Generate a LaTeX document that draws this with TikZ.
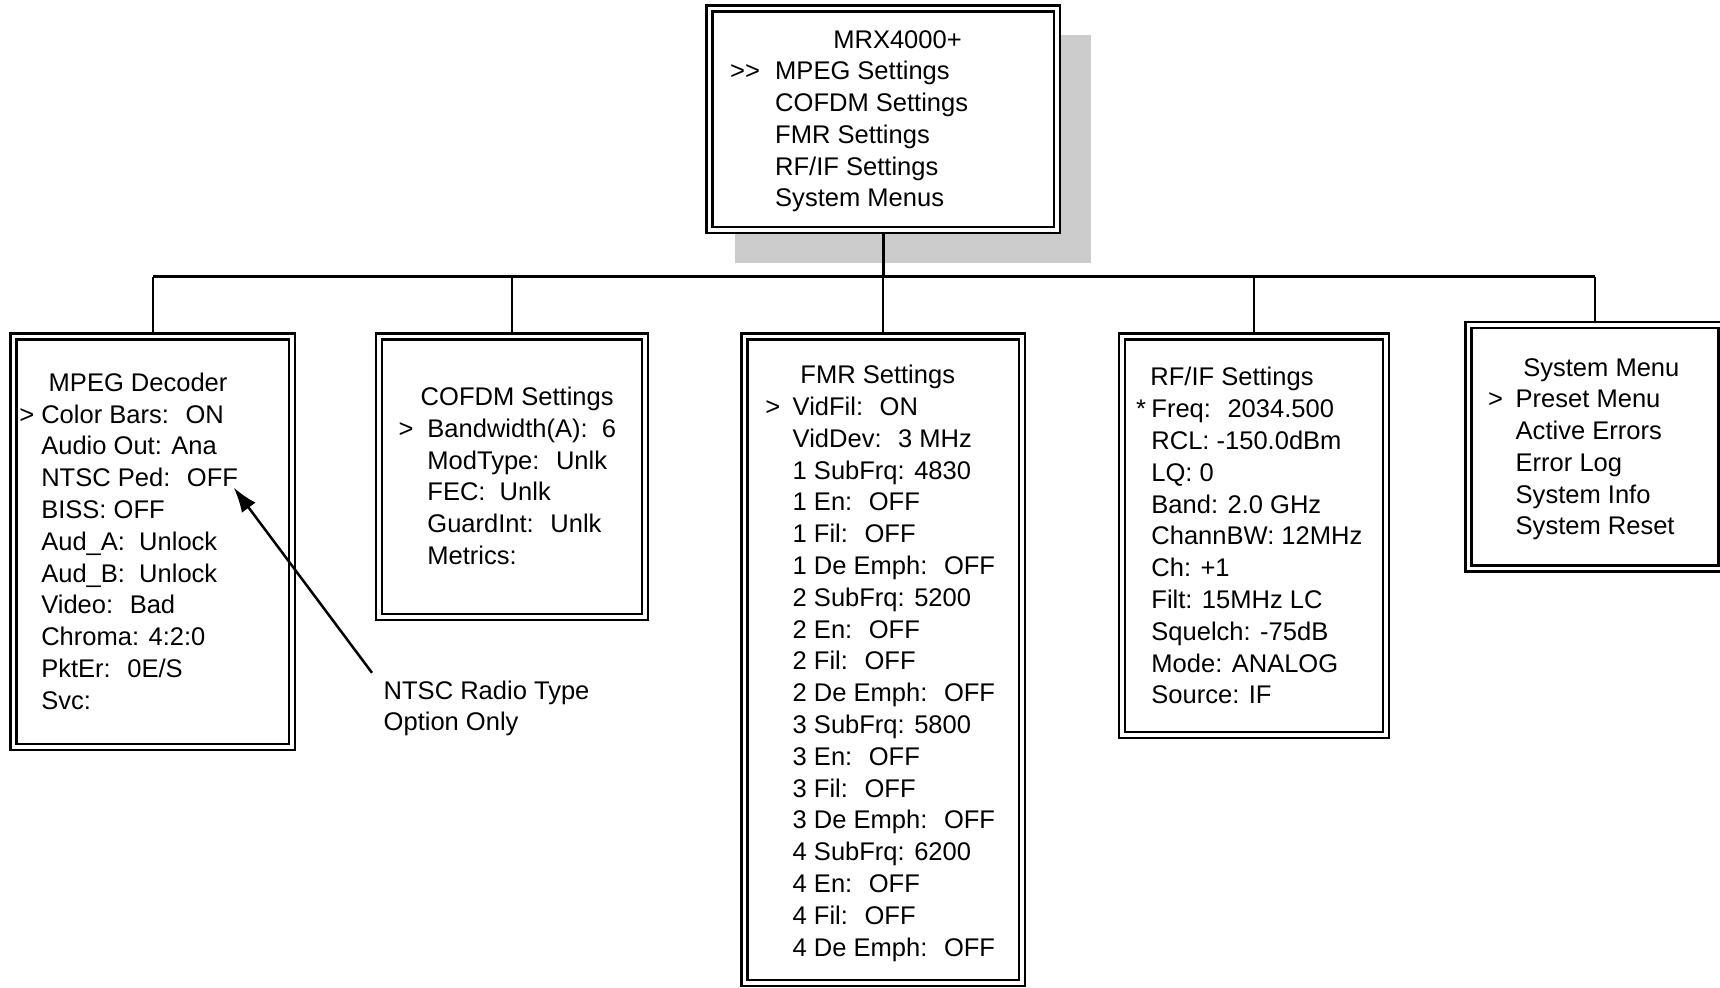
\documentclass[tikz,border=0pt]{standalone}
\usepackage{fontspec}
\setmainfont{Liberation Sans}
\usetikzlibrary{arrows.meta}
\newcommand\menufont{\fontsize{7.26pt}{9pt}\selectfont}
\tikzset{
menubox/.style={
  rectangle, draw, fill=white,
  double, double distance=0.035cm, line width=0.025cm,
  inner sep=0, outer sep=0},
menuline/.style={anchor=base west, inner sep=0, font=\menufont},
trunk/.style={line width=0.027cm},
branch/.style={line width=0.022cm, shorten >=0.03cm},
pointer/.style={line width=0.025cm, -{Latex[length=0.25cm,width=0.17cm]}},
}

\begin{document}
\begin{tikzpicture}[x=0.01cm, y=-0.01cm]
\useasboundingbox (0,0) rectangle (1720,987);
% shadow of the main menu
\fill[black!20] (735,35) rectangle (1091,263);
% the menu boxes
\node[menubox, minimum width=3.474cm, minimum height=2.215cm] (top) at (883.3,119.25) {};
\node[menubox, minimum width=2.785cm, minimum height=4.105cm] (mpeg) at (152.75,541.75) {};
\node[menubox, minimum width=2.66cm, minimum height=2.805cm] (cofdm) at (512,476.75) {};
\node[menubox, minimum width=2.77cm, minimum height=6.465cm] (fmr) at (883.3,659.75) {};
\node[menubox, minimum width=2.64cm, minimum height=3.985cm] (rfif) at (1254,535.75) {};
\node[menubox, minimum width=2.53cm, minimum height=2.435cm] (sys) at (1595,446.75) {};
% the tree lines
\coordinate (bus) at (883.3,276.7);
\draw[trunk, shorten <=0.03cm] (top.south) -- (bus);
\draw[trunk] (mpeg.north |- bus) -- (sys.north |- bus);
\foreach \b in {mpeg,cofdm,fmr,rfif,sys}
{
  \draw[branch] (\b.north |- bus) -- (\b.north);
}
% main menu
\node[menuline] at (832.6,48) {MRX4000+};
\node[menuline] at (729.5,79.7) {>\kern0pt>};
\foreach \t [count=\i from 0] in {MPEG Settings,COFDM Settings,FMR Settings,RF/IF Settings,System Menus}
  \node[menuline] (top-\i) at (774.5,{79.7+31.8*\i}) {\t};
% mpeg decoder
\node[menuline] at (48,391.2) {MPEG Decoder};
\node[menuline] at (18.6,423) {>};
\foreach \t [count=\i from 0] in {Color Bars:~ ON,Audio Out: Ana,NTSC Ped:~ OFF,BISS: OFF,Aud\_A:~ Unlock,Aud\_B:~ Unlock,Video:~ Bad,Chroma: 4:2:0,PktEr:~ 0E/S,Svc:}
  \node[menuline] (mpeg-\i) at (40.6,{423+31.8*\i}) {\t};
% cofdm settings
\node[menuline] at (420,405.5) {COFDM Settings};
\node[menuline] at (398,437.3) {>};
\foreach \t [count=\i from 0] in {Bandwidth(A):~ 6,ModType:~ Unlk,FEC:~ Unlk,GuardInt:~ Unlk,Metrics:}
  \node[menuline] (cofdm-\i) at (426.7,{437.3+31.8*\i}) {\t};
% fmr settings
\node[menuline] at (799.7,383.6) {FMR Settings};
\node[menuline] at (764.6,415.4) {>};
\node[menuline] (fmr-a) at (792,415.4) {VidFil:~ ON};
\node[menuline] (fmr-b) at (792,447.2) {VidDev:~ 3 MHz};
\foreach \n/\f [count=\k from 0] in {1/4830,2/5200,3/5800,4/6200}
{
  \node[menuline] (fmr-\n-sub) at (792,{479+127.2*\k}) {\n\ SubFrq: \f};
  \node[menuline] (fmr-\n-en) at (792,{510.8+127.2*\k}) {\n\ En:~ OFF};
  \node[menuline] (fmr-\n-fil) at (792,{542.6+127.2*\k}) {\n\ Fil:~ OFF};
  \node[menuline] (fmr-\n-emph) at (792,{574.4+127.2*\k}) {\n\ De Emph:~ OFF};
}
% rf/if settings
\node[menuline] at (1149.7,385.8) {RF/IF Settings};
\node[menuline] at (1135.4,417.6) {*};
\foreach \t [count=\i from 0] in {Freq:~ 2034.500,RCL: -150.0dBm,LQ: 0,Band: 2.0 GHz,ChannBW: 12MHz,Ch: +1,Filt: 15MHz LC,Squelch: -75dB,Mode: ANALOG,Source: IF}
  \node[menuline] (rfif-\i) at (1150.7,{417.6+31.8*\i}) {\t};
% system menu
\node[menuline] at (1522.6,376) {System Menu};
\node[menuline] at (1487.5,407.7) {>};
\foreach \t [count=\i from 0] in {Preset Menu,Active Errors,Error Log,System Info,System Reset}
  \node[menuline] (sys-\i) at (1515,{407.7+31.8*\i}) {\t};
% the note
\node[menuline, anchor=north west, inner xsep=0.11cm, inner ysep=0.07cm, align=left] (note) at (372,672.8) {NTSC Radio Type\\Option Only};
\draw[pointer] (note.north west) -- ([xshift=-0.05cm]mpeg-2.south east);
\end{tikzpicture}
\end{document}
